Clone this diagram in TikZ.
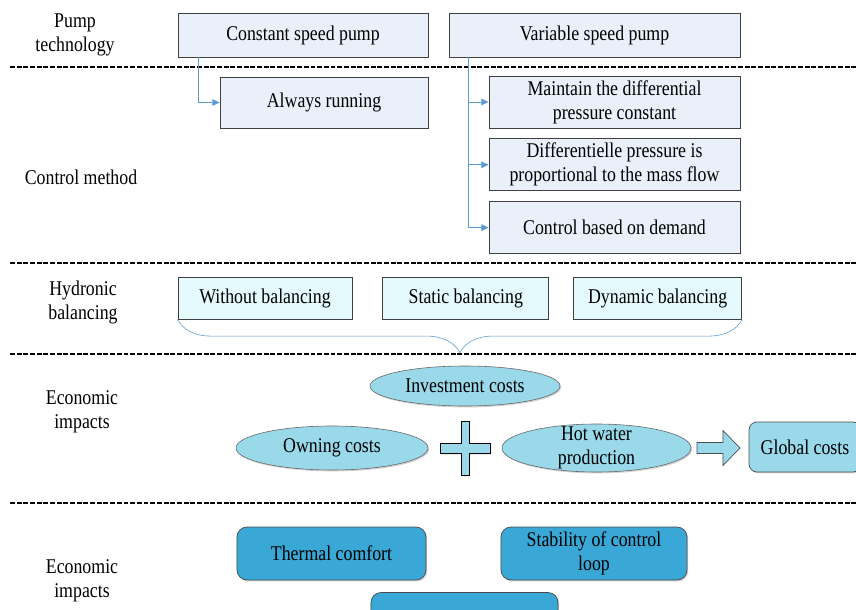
\documentclass[tikz,border=0pt]{standalone}
\usepackage{fontspec}
\setmainfont{Liberation Serif}[FakeStretch=0.85]
\usepackage{xcolor}
\usetikzlibrary{arrows.meta,positioning,calc,shapes.geometric,decorations.pathreplacing,shadows}
\definecolor{paleblue}{HTML}{EAF0F9}
\definecolor{palecyan}{HTML}{E4FAFD}
\definecolor{skyblue}{HTML}{99D9EA}
\definecolor{deepsky}{HTML}{3AA8D7}
\definecolor{linkblue}{HTML}{5B9BD5}

\begin{document}
\begin{tikzpicture}[x=0.03cm, y=-0.03cm,
  every node/.style={font=\fontsize{17.9pt}{20.5pt}\selectfont, align=center},
  softshadow/.style={drop shadow={shadow xshift=1pt, shadow yshift=-1.2pt, fill=black!35}},
  pumpbox/.style={rectangle, draw=black!75, line width=0.7pt, fill=paleblue, inner sep=2pt},
  balbox/.style={rectangle, draw=black!75, line width=0.7pt, fill=palecyan, minimum height=1.26cm, inner sep=2pt},
  costell/.style={ellipse, draw=black!60, line width=0.5pt, fill=skyblue, inner sep=0pt, softshadow},
  effbox/.style={rectangle, rounded corners=0.3cm, draw=black!70, line width=0.6pt, fill=deepsky, minimum height=1.59cm, softshadow},
  sepline/.style={line width=1.7pt, dash pattern=on 4.2pt off 1.5pt},
  link/.style={draw=linkblue, line width=0.8pt, -{Triangle[length=0.22cm, width=0.2cm]}}]
  \useasboundingbox (0,0) rectangle (856,610);

  % separators
  \foreach \yy in {67,263,354,503}
    \draw[sepline] (10,\yy) -- (856,\yy);

  % row labels
  \node (techlbl) at (75,35) {Pump\\technology};
  \node (ctrllbl) at (81,177) {Control method};
  \node (ballbl) at (83,302) {Hydronic\\balancing};
  \node (ecolbl) at (82,412) {Economic\\impacts};
  \node (ecolblb) at (82,581) {Economic\\impacts};

  % pumps and control methods
  \node[pumpbox, minimum width=7.5cm, minimum height=1.32cm] (cpump) at (303,35) {Constant speed pump};
  \node[pumpbox, minimum width=8.73cm, minimum height=1.32cm] (vpump) at (594.5,35) {Variable speed pump};
  \node[pumpbox, minimum width=6.24cm, minimum height=1.53cm] (always) at (324,102.5) {Always running};
  \node[pumpbox, minimum width=7.53cm, minimum height=1.56cm] (meth1) at (614.5,102) {Maintain the differential\\pressure constant};
  \node[pumpbox, minimum width=7.53cm, minimum height=1.56cm, below=0.3cm of meth1] (meth2) {Differentielle pressure is\\proportional to the mass flow};
  \node[pumpbox, minimum width=7.53cm, minimum height=1.56cm, below=0.3cm of meth2] (meth3) {Control based on demand};
  \draw[link] ($(cpump.south west)+(21,0)$) |- (always.west);
  \foreach \m in {meth1,meth2,meth3}
    \draw[link] ($(vpump.south west)+(20,0)$) |- (\m.west);

  % balancing
  \node[balbox, minimum width=5.22cm] (without) at (265,298) {Without balancing};
  \node[balbox, minimum width=4.98cm, right=0.9cm of without] (static) {Static balancing};
  \node[balbox, minimum width=5.04cm, right=0.72cm of static] (dynamic) {Dynamic balancing};
  \draw[linkblue, line width=0.5pt, decorate, decoration={brace, amplitude=1.0cm}]
    (dynamic.south east) -- (without.south west);

  % costs
  \node[costell, minimum width=5.7cm, minimum height=1.2cm] (invest) at (465,386) {Investment costs};
  \node[costell, minimum width=5.76cm, minimum height=1.32cm] (owning) at (332,448) {Owning costs};
  \node[costell, minimum width=5.67cm, minimum height=1.44cm,
    label={[name=hottext]center:Hot water\\production}] (hot) at (596.5,448) {};
  \coordinate (plus) at (465,448);
  \begin{scope}[shift={(plus)}]
    \draw[fill=skyblue, line width=0.7pt, softshadow] (-25,-5) -- (-4,-5) -- (-4,-27) -- (4,-27) -- (4,-5) -- (25,-5)
      -- (25,5) -- (4,5) -- (4,27) -- (-4,27) -- (-4,5) -- (-25,5) -- cycle;
  \end{scope}
  \coordinate (arrtail) at (697,448);
  \begin{scope}[shift={(arrtail)}]
    \draw[fill=skyblue, line width=0.6pt, draw=black!70] (0,-5.5) -- (26,-5.5) -- (26,-17.5) -- (43,0)
      -- (26,17.5) -- (26,5.5) -- (0,5.5) -- cycle;
  \end{scope}
  \node[rectangle, rounded corners=0.24cm, draw=black!70, line width=0.6pt, fill=skyblue, softshadow,
    minimum width=3.36cm, minimum height=1.5cm] (global) at (805,447) {Global costs};

  % effects
  \node[effbox, minimum width=5.67cm] (thermal) at (331.5,553.5) {Thermal comfort};
  \node[effbox, minimum width=5.58cm] (stab) at (594,553.5) {Stability of control\\loop};
  \node[effbox, minimum width=5.61cm] (third) at (464.5,619) {};
\end{tikzpicture}
\end{document}
